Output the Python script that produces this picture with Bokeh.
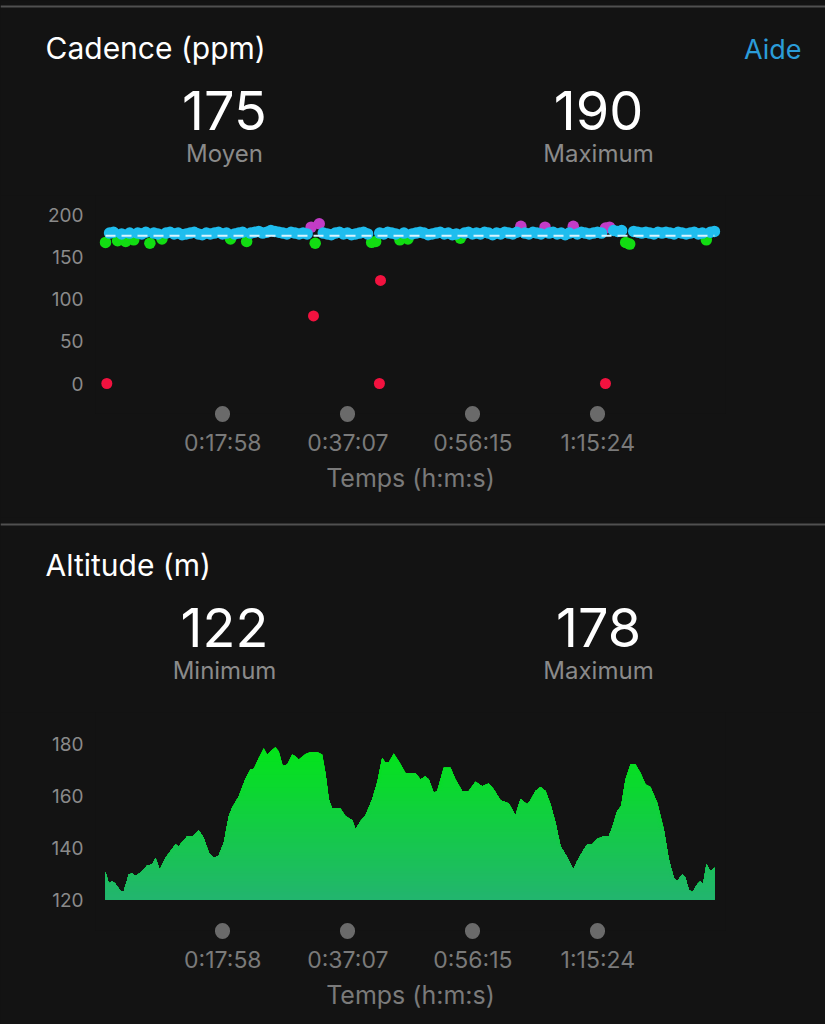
import numpy as np
from bokeh.plotting import figure
from bokeh.models import Range1d, FixedTicker, Label, BoxAnnotation
from bokeh.layouts import column
from bokeh.embed import file_html
from bokeh.resources import INLINE

# ---------------- data ----------------
DURATION_S = 5595  # total activity time, seconds

tick_seconds = [1078, 2227, 3375, 4524]
tick_labels = ["0:17:58", "0:37:07", "0:56:15", "1:15:24"]

cad_title = "Cadence (ppm)"
cad_avg = 175
cad_max = 190
cad_yticks = [0, 50, 100, 150, 200]

# cadence samples (steps per minute), evenly spaced over the activity
cadence = [
    167, 178, 179, 169, 177, 168, 178, 170, 178, 177,
    179, 166, 178, 177, 171, 178, 179, 177, 178, 176,
    177, 178, 179, 177, 176, 178, 177, 178, 179, 177,
    178, 171, 177, 178, 179, 168, 178, 179, 180, 178,
    179, 181, 180, 179, 178, 177, 179, 178, 177, 178,
    177, 185, 166, 189, 178, 177, 176, 178, 179, 177,
    178, 176, 177, 178, 179, 177, 167, 168, 178, 177,
    179, 178, 177, 170, 178, 171, 177, 178, 179, 178,
    176, 177, 178, 179, 177, 178, 176, 177, 172, 178,
    179, 177, 178, 177, 179, 178, 176, 178, 177, 179,
    178, 177, 179, 186, 178, 177, 179, 178, 177, 185,
    178, 179, 177, 178, 176, 178, 186, 177, 179, 178,
    177, 178, 179, 178, 184, 185, 181, 180, 181, 167,
    165, 180, 179, 178, 179, 178, 177, 179, 178, 179,
    178, 177, 179, 178, 177, 178, 179, 177, 178, 170,
    179, 180,
]
# sensor drop-outs
dropout_times = [12, 1911, 2517, 2527, 4594]
dropout_values = [0, 80, 0, 122, 0]

alt_title = "Altitude (m)"
alt_min = 122
alt_max = 178
alt_yticks = [120, 140, 160, 180]

alt_times = [
    0, 30, 62, 92, 138, 168, 214, 245, 276, 322, 383, 429, 459, 499, 551,
    643, 673, 751, 797, 857, 903, 949, 995, 1041, 1087, 1133, 1164, 1225,
    1286, 1332, 1363, 1409, 1454, 1486, 1532, 1562, 1592, 1629, 1670, 1715,
    1746, 1776, 1838, 1884, 1945, 1991, 2021, 2052, 2083, 2159, 2205, 2267,
    2297, 2343, 2389, 2450, 2496, 2542, 2573, 2603, 2649, 2695, 2756, 2802,
    2848, 2894, 2940, 2971, 3016, 3048, 3108, 3170, 3216, 3277, 3338, 3400,
    3461, 3522, 3568, 3629, 3706, 3767, 3813, 3875, 3905, 3951, 3997, 4043,
    4089, 4135, 4181, 4227, 4257, 4297, 4334, 4395, 4426, 4472, 4518, 4578,
    4624, 4656, 4702, 4738, 4778, 4824, 4870, 4916, 4962, 5007, 5069, 5130,
    5176, 5222, 5253, 5299, 5329, 5359, 5391, 5437, 5467, 5491, 5522, 5559,
    5595,
]
altitude = [
    130.5, 126.2, 127.0, 126.0, 123.2, 123.2, 129.6, 130.0, 129.0, 130.3,
    133.1, 133.5, 136.0, 131.3, 136.0, 141.2, 140.5, 144.3, 144.1, 146.5,
    143.7, 138.0, 136.0, 136.9, 141.8, 152.0, 155.3, 159.7, 166.4, 170.0,
    170.3, 174.5, 178.3, 175.8, 177.7, 178.7, 177.0, 171.3, 171.9, 175.8,
    175.1, 173.8, 176.0, 176.7, 176.7, 175.8, 168.7, 158.5, 154.9, 154.9,
    152.0, 150.5, 146.9, 150.1, 152.3, 158.5, 164.9, 174.5, 172.6, 172.8,
    176.2, 173.2, 168.7, 168.7, 168.7, 166.2, 167.4, 166.2, 161.0, 161.7,
    170.7, 170.7, 166.2, 161.7, 161.7, 165.3, 163.6, 164.6, 162.3, 158.2,
    156.9, 152.3, 158.7, 156.5, 158.2, 161.7, 163.3, 161.7, 156.5, 149.5,
    140.5, 137.3, 135.1, 131.5, 134.7, 139.2, 141.2, 141.2, 143.3, 144.3,
    144.3, 147.6, 154.0, 155.9, 166.2, 171.9, 171.9, 168.7, 164.2, 163.3,
    157.2, 146.9, 135.4, 128.3, 127.0, 129.6, 128.3, 123.8, 122.6, 125.8,
    127.0, 125.8, 133.5, 130.9, 132.2,
]
alt_base = 120

# ---------------- style ----------------
BG = "#131313"
SEP = "#505050"
GREY = "#8a8a8a"
TICK_GREY = "#7a7a7a"
DOT = "#6a6a6a"
FONT = "Inter"
ZONES = [  # (lower bound, colour)
    (0, "#f2123f"),
    (153, "#ff8c00"),
    (164, "#12dd12"),
    (174, "#1fbdee"),
    (184, "#c23cc6"),
]


def zone_color(v):
    c = ZONES[0][1]
    for lo, col in ZONES:
        if v >= lo:
            c = col
    return c


W = 825
HEADER_H = 195
FRAME_H = 218          # chart frame height (ends on the tick dots)
FRAME_L, FRAME_R = 95, 725
X_RANGE = (-92, 5697)


def header_fig(title, v1, l1, v2, l2, aide=False, sep_y=6.5):
    # full-width frame; data units = page pixels (y downwards)
    h = figure(width=W, height=HEADER_H, x_range=Range1d(0, W),
               y_range=Range1d(HEADER_H, 0),
               x_axis_type=None, y_axis_type=None, output_backend="svg",
               toolbar_location=None, min_border=0, frame_align=False,
               background_fill_color=BG, border_fill_color=BG, outline_line_color=None)
    h.grid.visible = False
    h.add_layout(BoxAnnotation(left=0, right=W, top=sep_y - 1, bottom=sep_y + 1,
                               fill_color=SEP, fill_alpha=1, line_color=None))
    h.add_layout(Label(x=45, y=47, text=title, text_font=FONT, text_font_size="30px",
                       text_color="white", text_baseline="middle", text_align="left"))
    for cx, v, l in [(224, v1, l1), (598, v2, l2)]:
        h.add_layout(Label(x=cx, y=110, text=str(v), text_font=FONT, text_font_size="54px",
                           text_color="white", text_baseline="middle", text_align="center"))
        h.add_layout(Label(x=cx, y=153, text=l, text_font=FONT, text_font_size="24px",
                           text_color=GREY, text_baseline="middle", text_align="center"))
    if aide:
        h.add_layout(Label(x=801, y=49, text="Aide", text_font=FONT, text_font_size="27px",
                           text_color="#2b9cd8", text_baseline="middle", text_align="right"))
    return h


def chart_fig(h, y0, y1, yticks):
    p = figure(width=W, height=h,
               x_range=Range1d(*X_RANGE), y_range=Range1d(y0, y1),
               output_backend="svg", toolbar_location=None, frame_align=False,
               min_border_left=FRAME_L, min_border_right=W - FRAME_R,
               min_border_top=0, min_border_bottom=h - FRAME_H,
               background_fill_color=BG, border_fill_color=BG,
               outline_line_color=None)
    p.grid.visible = False
    xa = p.xaxis[0]
    xa.ticker = FixedTicker(ticks=tick_seconds)
    xa.major_label_overrides = {t: l for t, l in zip(tick_seconds, tick_labels)}
    xa.axis_line_color = None
    xa.major_tick_line_color = DOT
    xa.major_tick_line_width = 15
    xa.major_tick_line_cap = "round"
    xa.major_tick_in = 0
    xa.major_tick_out = 1
    xa.minor_tick_line_color = None
    xa.major_label_standoff = 14
    xa.major_label_text_font = FONT
    xa.major_label_text_font_size = "23px"
    xa.major_label_text_color = TICK_GREY
    xa.axis_label = "Temps (h:m:s)"
    xa.axis_label_text_font = FONT
    xa.axis_label_text_font_size = "25px"
    xa.axis_label_text_font_style = "normal"
    xa.axis_label_text_color = TICK_GREY
    xa.axis_label_standoff = 3

    ya = p.yaxis[0]
    ya.ticker = FixedTicker(ticks=yticks)
    ya.axis_line_color = None
    ya.major_tick_line_color = None
    ya.minor_tick_line_color = None
    ya.major_tick_in = 0
    ya.major_tick_out = 0
    ya.major_label_standoff = 12
    ya.major_label_text_font = FONT
    ya.major_label_text_font_size = "19px"
    ya.major_label_text_color = GREY
    return p


# ---------------- cadence ----------------
H1 = 517 - HEADER_H
cad_px_per_unit = 169 / 200.0
cad_zero_px = 383 - HEADER_H      # local pixel of cadence 0
y_lo = -(FRAME_H - cad_zero_px) / cad_px_per_unit
y_hi = cad_zero_px / cad_px_per_unit
h1 = header_fig(cad_title, cad_avg, "Moyen", cad_max, "Maximum", aide=True, sep_y=6)
p1 = chart_fig(H1, y_lo, y_hi, cad_yticks)

n = len(cadence)
cad_times = [i * DURATION_S / (n - 1) for i in range(n)]
layers = ["#12dd12", "#c23cc6", "#1fbdee", "#ff8c00"]
for col in layers:
    xs = [t for t, v in zip(cad_times, cadence) if zone_color(v) == col]
    ys = [v for v in cadence if zone_color(v) == col]
    if xs:
        p1.scatter(xs, ys, size=11.5, fill_color=col, line_color=None)
p1.line([cad_times[0], cad_times[-1]], [cad_avg, cad_avg],
        line_color="#d6f3ff", line_width=2, line_dash="10 6")
p1.scatter(dropout_times, dropout_values, size=11,
           fill_color=[zone_color(v) for v in dropout_values], line_color=None)

# ---------------- altitude ----------------
H2 = 1024 - 517 - HEADER_H
alt_px_per_unit = 52 / 20.0
alt_base_px = 899 - 517 - HEADER_H
a_lo = alt_base - (FRAME_H - alt_base_px) / alt_px_per_unit
a_hi = alt_base + alt_base_px / alt_px_per_unit
h2 = header_fig(alt_title, alt_min, "Minimum", alt_max, "Maximum", sep_y=7)
p2 = chart_fig(H2, a_lo, a_hi, alt_yticks)

# vertical gradient: stacked areas from the baseline, clipped at rising levels,
# drawn top level first so lower (bluer) levels overlay the bottom part
c_bot = np.array([0x23, 0xb4, 0x6f], dtype=float)
c_top = np.array([0x02, 0xe6, 0x17], dtype=float)
alt_arr = np.array(altitude)
levels = np.arange(alt_base + 1, 181, 1.0)
for L in levels[::-1]:
    f = (L - alt_base) / (180 - alt_base)
    c = c_bot + (c_top - c_bot) * f
    col = "#%02x%02x%02x" % tuple(int(round(v)) for v in c)
    y2 = np.minimum(alt_arr, L) if L < levels[-1] else alt_arr
    p2.varea(x=alt_times, y1=[alt_base] * len(alt_times), y2=y2, fill_color=col)

layout = column(h1, p1, h2, p2, spacing=0, styles={"background-color": BG})
open("out.html", "w").write(file_html(layout, INLINE))
